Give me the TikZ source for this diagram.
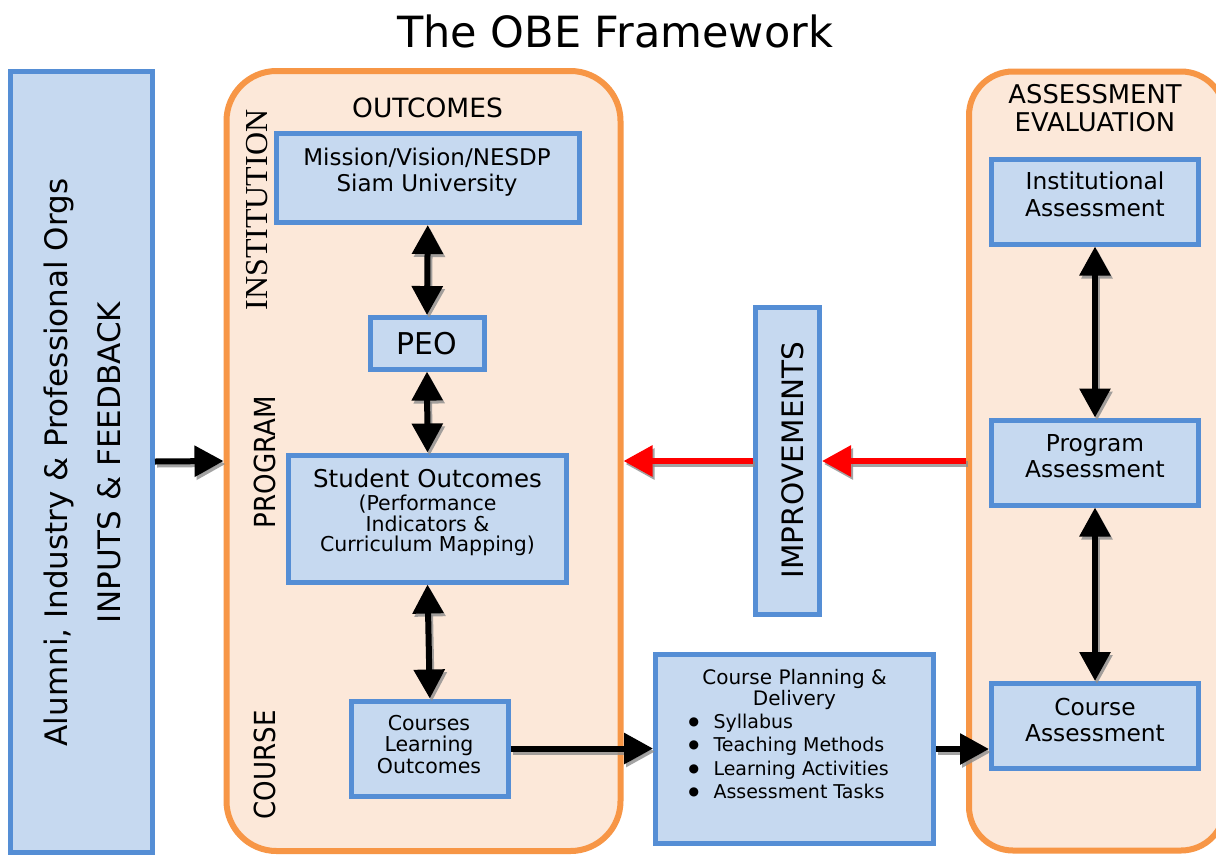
\documentclass[tikz,border=0pt]{standalone}
\usepackage{fontspec}
\setmainfont{DejaVu Sans}
\newfontfamily\serifL{Liberation Serif}
\newfontfamily\condf{DejaVu Sans}[FakeStretch=0.9]
\usetikzlibrary{arrows.meta}
\definecolor{bfill}{RGB}{198,217,240}
\definecolor{bline}{RGB}{85,142,213}
\definecolor{oline}{RGB}{247,150,70}
\definecolor{ofill}{RGB}{252,232,217}
\definecolor{shadowc}{RGB}{140,140,140}
\definecolor{redc}{RGB}{255,0,0}
\newcommand{\fsz}[2]{\fontsize{#1}{#2}\selectfont\lineskiplimit=-30pt\relax}
\newcommand{\bul}{\makebox[26.8pt][l]{\hspace{2pt}\raisebox{3.2pt}{\fontsize{12}{12}\selectfont ●}}}
% all connectors; #1 = colour of black arrows, #2 = colour of red arrows
\newcommand{\conn}[2]{%
  \draw[arr, draw=#1] (alum.east) -- (ob.west);
  \draw[darr, draw=#1] (m.south) -- (peo.north);
  \draw[darr, draw=#1] (peo.south) -- (so.north);
  \draw[darr, draw=#1] (so.south) -- (clo.north);
  \draw[arr, draw=#1] (clo.east) -- (clo.east -| cp.west);
  \draw[arr, draw=#1] (cp.east) -- (cp.east -| ca.west);
  \draw[darr, draw=#1] (ia.south) -- (pa.north);
  \draw[darr, draw=#1] (pa.south) -- (ca.north);
  \draw[arr, draw=#2] (imp.west) -- (imp.west -| ob.east);
  \draw[arr, draw=#2] (imp.east -| rb.west) -- (imp.east);
}
\begin{document}
\begin{tikzpicture}[x=1pt,y=-1pt,
  bbox/.style={draw=bline, fill=bfill, line width=5pt, inner sep=0pt},
  obox/.style={draw=oline, fill=ofill, line width=6pt, inner sep=0pt},
  txt/.style={inner sep=0pt, align=center, text=black},
  tipT/.tip={Triangle[length=29pt,width=30pt]},
  arr/.style={line width=6pt, -tipT},
  darr/.style={line width=6pt, tipT-tipT}
]
\useasboundingbox (0,0) rectangle (1216,855);
\clip (0,0) rectangle (1216,855);
\fill[white] (0,0) rectangle (1216,855);

% title
\node[txt, font=\fsz{43}{45}] (title) at (615,31) {The OBE Framework};

% input box
\node[bbox, minimum width=142pt, minimum height=781pt] (alum) at (81.5,461.5) {};
\node[txt, rotate=90, font=\fsz{31}{31}] (al1) at (58.8,462.5) {Alumni, Industry \& Professional Orgs};
\node[txt, rotate=90, font=\fsz{31}{31}] (al2) at (109.2,462.5) {INPUTS \& FEEDBACK};

% outcomes panel
\node[obox, rounded corners=50pt, minimum width=394pt, minimum height=780pt] (ob) at (423.5,461) {};
\node[txt, font=\fsz{26.5}{28}] (outc) at (427.5,108) {OUTCOMES};
\node[txt, rotate=90, font=\serifL\fsz{32}{32}] (inst) at (257.5,210) {INSTITUTION};
\node[txt, rotate=90, font=\condf\fsz{29}{29}] (prog) at (264.5,462) {PROGRAM};
\node[txt, rotate=90, font=\condf\fsz{29}{29}] (crs) at (264.5,765) {COURSE};

\node[bbox, minimum width=303.5pt, minimum height=89pt] (m) at (427.75,178) {};
\node[txt, font=\fsz{23}{26.7}] (mT) at (427,172) {Mission/Vision/NESDP\\Siam University};

\node[bbox, minimum width=114pt, minimum height=51.5pt, font=\fsz{30}{30}] (peo) at (427,343.3) {PEO};

\node[bbox, minimum width=278pt, minimum height=127pt] (so) at (427.5,518.5) {};
\node[txt, font=\fsz{24.5}{24.5}] (soT1) at (427.5,478.4) {Student Outcomes};
\node[txt, font=\fsz{20.5}{20.5}] (soT2) at (427.5,525.8) {(Performance\\Indicators \&\\Curriculum Mapping)};

\node[bbox, minimum width=156.5pt, minimum height=95pt] (clo) at (429.8,748.5) {};
\node[txt, font=\fsz{20.5}{21.3}] (cloT) at (429,744.4) {Courses\\Learning\\Outcomes};

% improvements
\node[bbox, minimum width=64pt, minimum height=307pt] (imp) at (787.5,461) {};
\node[txt, rotate=90, font=\fsz{29.5}{29.5}] (impT) at (792.9,460) {IMPROVEMENTS};

% course planning
\node[bbox, minimum width=278pt, minimum height=189pt] (cp) at (794.5,749) {};
\node[txt, font=\fsz{20}{20.7}] (cpT1) at (794.5,689.4) {Course Planning \&\\Delivery};
\node[txt, align=left, anchor=west, font=\fsz{19}{23.3}] (cpT2) at (686.5,756.5) {\bul Syllabus\\\bul Teaching Methods\\\bul Learning Activities\\\bul Assessment Tasks};

% assessment panel
\node[obox, rounded corners=44pt, minimum width=256pt, minimum height=779pt] (rb) at (1097,461) {};
\node[txt, font=\fsz{25.8}{28.4}] (aeT) at (1095,108.3) {ASSESSMENT\\EVALUATION};
\node[bbox, minimum width=207pt, minimum height=85pt] (ia) at (1095,201.5) {};
\node[txt, font=\fsz{23.3}{26.7}] (iaT) at (1095,194.5) {Institutional\\Assessment};
\node[bbox, minimum width=207pt, minimum height=85pt] (pa) at (1095,462.5) {};
\node[txt, font=\fsz{23.3}{26}] (paT) at (1095,455.9) {Program\\Assessment};
\node[bbox, minimum width=207pt, minimum height=85pt] (ca) at (1095,726) {};
\node[txt, font=\fsz{23.3}{26}] (caT) at (1095,719.7) {Course\\Assessment};

% connectors: soft drop shadow first, then the arrows
\begin{scope}[transform canvas={shift={(2pt,-3pt)}}, opacity=0.8]
  \conn{shadowc}{shadowc}
\end{scope}
\conn{black}{redc}
\end{tikzpicture}
\end{document}
